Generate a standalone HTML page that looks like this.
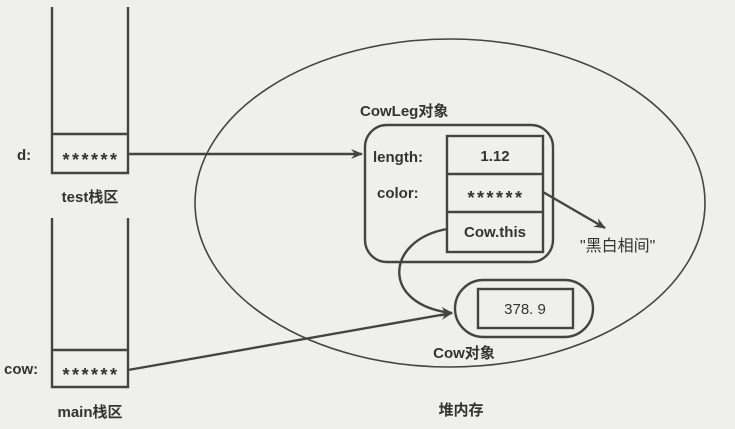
<!DOCTYPE html>
<html><head><meta charset="utf-8"><style>
body{margin:0;background:#efefed;}
svg{display:block;font-family:"Liberation Sans","Noto Sans CJK SC",sans-serif;}
</style></head><body>
<svg width="735" height="429" viewBox="0 0 735 429">
<defs><marker id="a" markerWidth="12" markerHeight="10" refX="11" refY="5" orient="auto" markerUnits="userSpaceOnUse"><path d="M0,0 L12,5 L0,10 L4,5 Z" fill="#444"/></marker></defs>
<g stroke="#444" stroke-width="2.4" fill="none">
<path d="M52,7 V173 H128 V7"/><line x1="52" y1="134" x2="128" y2="134"/>
<path d="M52,218 V387 H128 V218"/><line x1="52" y1="350" x2="128" y2="350"/>
<ellipse cx="450" cy="203" rx="255" ry="164" stroke-width="1.6"/>
<rect x="365" y="125" width="188" height="137" rx="22"/>
<rect x="447" y="136" width="96" height="116"/>
<line x1="447" y1="174" x2="543" y2="174"/><line x1="447" y1="212" x2="543" y2="212"/>
<rect x="455" y="280" width="138" height="57" rx="28.5"/>
<rect x="478" y="289" width="95" height="39"/>
<line x1="128" y1="154" x2="362" y2="154" marker-end="url(#a)"/>
<line x1="128" y1="370" x2="452" y2="313" marker-end="url(#a)"/>
<line x1="543" y1="192" x2="605" y2="228" marker-end="url(#a)"/>
<path d="M447,229 C385,240 380,305 452,313" marker-end="url(#a)"/>
</g>
<g fill="#333" font-size="15" font-weight="bold">
<text x="17" y="160">d:</text>
<text x="4" y="374">cow:</text>
<text x="91" y="166" text-anchor="middle" font-size="18" letter-spacing="2.5">******</text>
<text x="91" y="381" text-anchor="middle" font-size="18" letter-spacing="2.5">******</text>
<text x="90" y="202" text-anchor="middle">test栈区</text>
<text x="90" y="417" text-anchor="middle">main栈区</text>
<text x="360" y="116">CowLeg对象</text>
<text x="373" y="162">length:</text>
<text x="377" y="198">color:</text>
<text x="495" y="161" text-anchor="middle">1.12</text>
<text x="496" y="204" text-anchor="middle" font-size="18" letter-spacing="2.5">******</text>
<text x="495" y="237" text-anchor="middle">Cow.this</text>
<text x="525" y="314" text-anchor="middle" font-weight="normal">378. 9</text>
<text x="580" y="251" font-size="16" font-weight="normal">"黑白相间"</text>
<text x="464" y="358" text-anchor="middle">Cow对象</text>
<text x="461" y="415" text-anchor="middle">堆内存</text>
</g>
</svg>
</body></html>
